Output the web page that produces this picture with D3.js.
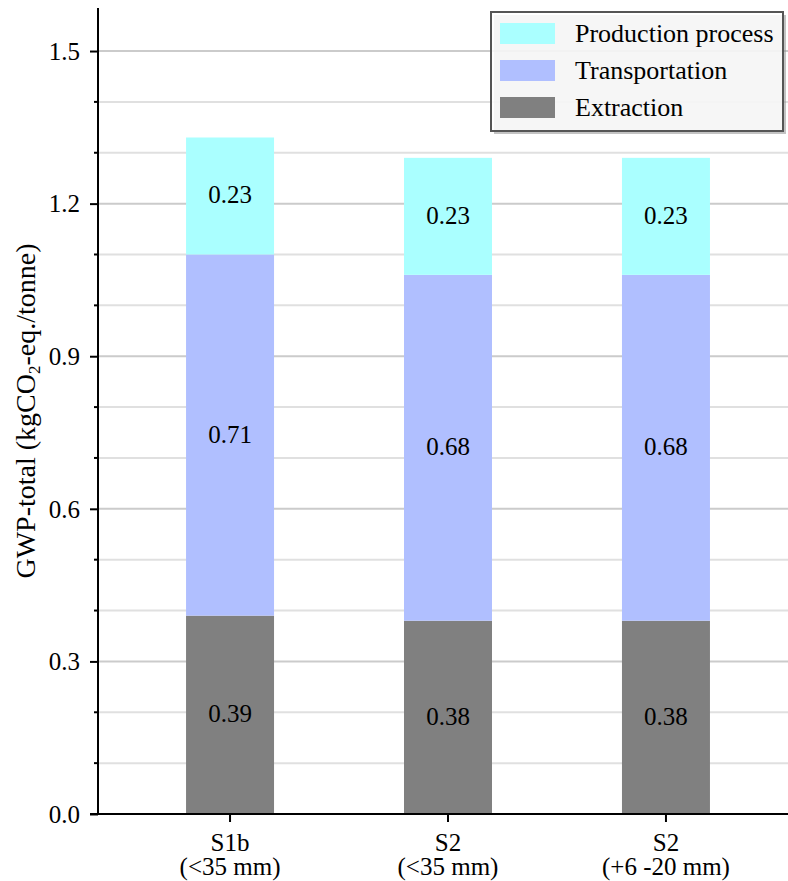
<!DOCTYPE html>
<html>
<head>
<meta charset="utf-8">
<script src="https://cdn.jsdelivr.net/npm/d3@7/dist/d3.min.js"></script>
<style>
  html, body { margin: 0; padding: 0; background: #fff; }
  svg { display: block; }
</style>
</head>
<body>
<svg id="chart" width="788" height="881"></svg>
<script>
// Categories (two-line labels) and stacked component values
const categories = ["S1b|(<35 mm)", "S2|(<35 mm)", "S2|(+6 -20 mm)"];
const extraction = [0.39, 0.38, 0.38];
const transportation = [0.71, 0.68, 0.68];
const production = [0.23, 0.23, 0.23];
const seriesNames = ["Extraction", "Transportation", "Production process"];
const seriesColors = ["#808080", "#b0bfff", "#aaffff"];
const yMajorTicks = [0.0, 0.3, 0.6, 0.9, 1.2, 1.5];
const yMinorTicks = [0.1, 0.2, 0.4, 0.5, 0.7, 0.8, 1.0, 1.1, 1.3, 1.4];

const FONT = '"Liberation Serif", "Times New Roman", serif';
const svg = d3.select("#chart").style("font-family", FONT);
const plotLeft = 98, plotTop = 8, plotBottom = 814;

const y = d3.scaleLinear().domain([0, 1.5846]).range([plotBottom, plotTop]);
const x = d3.scaleBand().domain(categories).range([103, 793])
  .paddingInner(0.5963).paddingOuter(0.381);

// Gridlines (every 0.1, major ones a touch darker)
const grid = svg.append("g");
yMinorTicks.forEach(v => {
  grid.append("line").attr("x1", plotLeft).attr("x2", 788)
    .attr("y1", y(v)).attr("y2", y(v))
    .attr("stroke", "#e0e0e0").attr("stroke-width", 2);
});
yMajorTicks.filter(v => v > 0).forEach(v => {
  grid.append("line").attr("x1", plotLeft).attr("x2", 788)
    .attr("y1", y(v)).attr("y2", y(v))
    .attr("stroke", "#cbcbcb").attr("stroke-width", 2);
});

// Stacked bars
const rows = categories.map((c, i) => ({
  cat: c,
  Extraction: extraction[i],
  Transportation: transportation[i],
  "Production process": production[i]
}));
const stack = d3.stack().keys(seriesNames)(rows);

stack.forEach((layer, li) => {
  const g = svg.append("g");
  g.selectAll("rect").data(layer).join("rect")
    .attr("x", d => x(d.data.cat))
    .attr("width", x.bandwidth())
    .attr("y", d => y(d[1]))
    .attr("height", d => y(d[0]) - y(d[1]))
    .attr("fill", seriesColors[li]);
  g.selectAll("text").data(layer).join("text")
    .attr("x", d => x(d.data.cat) + x.bandwidth() / 2)
    .attr("y", d => y((d[0] + d[1]) / 2))
    .attr("dy", "0.3em")
    .attr("text-anchor", "middle")
    .style("font-family", FONT).style("font-size", "25px")
    .attr("fill", "#000")
    .text(d => (d[1] - d[0]).toFixed(2));
});

// Y axis
const yAxis = svg.append("g").attr("transform", `translate(${plotLeft},0)`);
yAxis.call(d3.axisLeft(y).tickValues(yMajorTicks).tickFormat(d3.format(".1f"))
  .tickSize(8).tickPadding(10));
yAxis.select(".domain").attr("d", `M0,${plotTop}V${plotBottom}`).attr("stroke", "#000").attr("stroke-width", 2);
yAxis.selectAll(".tick line").attr("stroke", "#000").attr("stroke-width", 2);
yAxis.selectAll(".tick text").style("font-family", FONT).style("font-size", "25px")
  .attr("dy", "0.33em");
yAxis.selectAll(".minor").data(yMinorTicks).join("line")
  .attr("class", "minor")
  .attr("x1", -4).attr("x2", 0)
  .attr("y1", d => y(d)).attr("y2", d => y(d))
  .attr("stroke", "#000").attr("stroke-width", 2);

// X axis
const xAxis = svg.append("g").attr("transform", `translate(0,${plotBottom})`);
xAxis.call(d3.axisBottom(x).tickSize(8).tickFormat(""));
xAxis.select(".domain").attr("d", `M${plotLeft - 8},0H788`).attr("stroke", "#000").attr("stroke-width", 2);
xAxis.selectAll(".tick line").attr("stroke", "#000").attr("stroke-width", 2);
xAxis.selectAll(".tick").each(function(d) {
  const parts = d.split("|");
  const t = d3.select(this).append("text")
    .attr("text-anchor", "middle")
    .style("font-family", FONT).style("font-size", "25px")
    .attr("fill", "#000");
  parts.forEach((p, i) => {
    t.append("tspan").attr("x", 0).attr("y", 37 + i * 24).text(p);
  });
});

// Y axis title
const yt = svg.append("text")
  .attr("transform", `translate(35,${(plotTop + plotBottom) / 2}) rotate(-90)`)
  .attr("text-anchor", "middle")
  .style("font-family", FONT).style("font-size", "28px")
  .attr("fill", "#000");
yt.append("tspan").text("GWP-total (kgCO");
yt.append("tspan").style("font-size", "17px").attr("dy", 5).text("2");
yt.append("tspan").attr("dy", -5).text("-eq./tonne)");

// Legend (top entry first)
const lg = svg.append("g").attr("transform", "translate(491,12)");
lg.append("rect").attr("x", 3).attr("y", 3).attr("width", 292).attr("height", 119)
  .attr("fill", "#888").attr("opacity", 0.5);
lg.append("rect").attr("width", 292).attr("height", 119)
  .attr("fill", "#fff").attr("fill-opacity", 0.85)
  .attr("stroke", "#555").attr("stroke-width", 2);
const legendOrder = [2, 1, 0];
legendOrder.forEach((si, i) => {
  const cy = 21 + i * 37;
  lg.append("rect").attr("x", 9).attr("y", cy - 10).attr("width", 55).attr("height", 21)
    .attr("fill", seriesColors[si]);
  lg.append("text").attr("x", 84).attr("y", cy + 9)
    .style("font-family", FONT).style("font-size", "26px")
    .attr("fill", "#000").text(seriesNames[si]);
});
</script>
</body>
</html>
